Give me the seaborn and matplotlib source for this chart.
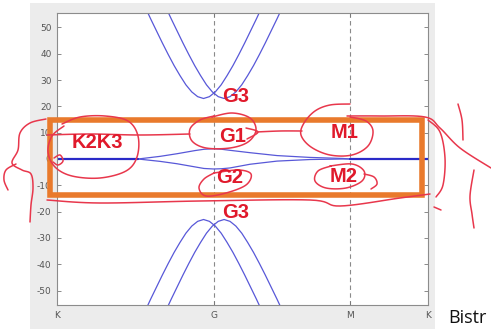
import matplotlib
matplotlib.use("Agg")
import numpy as np
import pandas as pd
import seaborn as sns
import matplotlib.pyplot as plt
from matplotlib.lines import Line2D
from matplotlib.patches import Rectangle

# ---------------------------------------------------------------- data
# high-symmetry path K -> G -> M -> K (path length in units of 1/a)
tick_pos = [0.0, 1.3333, 2.4880, 3.1547]
tick_labels = ["K", "G", "M", "K"]
y_ticks = [-50, -40, -30, -20, -10, 0, 10, 20, 30, 40, 50]

# remote conduction bands (two split parabolas crossing at G)
k_cb_a = [0.696, 0.746, 0.796, 0.846, 0.896, 0.946, 0.996, 1.046, 1.096, 1.146, 1.196, 1.246,
          1.296, 1.346, 1.396, 1.446, 1.496, 1.546, 1.596, 1.646, 1.696, 1.746, 1.796]
e_cb_a = [62.9, 58.1, 53.3, 48.7, 44.1, 39.7, 35.5, 31.7, 28.2, 25.5, 23.7, 23.0,
          23.7, 25.5, 28.2, 31.7, 35.5, 39.7, 44.1, 48.7, 53.3, 58.1, 62.9]
k_cb_b = [0.871, 0.921, 0.971, 1.021, 1.071, 1.121, 1.171, 1.221, 1.271, 1.321, 1.371, 1.421,
          1.471, 1.521, 1.571, 1.621, 1.671, 1.721, 1.771, 1.821, 1.871, 1.921, 1.971]
e_cb_b = [62.9, 58.1, 53.3, 48.7, 44.1, 39.7, 35.5, 31.7, 28.2, 25.5, 23.7, 23.0,
          23.7, 25.5, 28.2, 31.7, 35.5, 39.7, 44.1, 48.7, 53.3, 58.1, 62.9]

# remote valence bands
k_vb_a = [0.696, 0.746, 0.796, 0.846, 0.896, 0.946, 0.996, 1.046, 1.096, 1.146, 1.196, 1.246,
          1.296, 1.346, 1.396, 1.446, 1.496, 1.546, 1.596, 1.646, 1.696, 1.746, 1.796]
e_vb_a = [-62.9, -58.1, -53.3, -48.7, -44.1, -39.7, -35.5, -31.7, -28.2, -25.5, -23.7, -23.0,
          -23.7, -25.5, -28.2, -31.7, -35.5, -39.7, -44.1, -48.7, -53.3, -58.1, -62.9]
k_vb_b = [0.871, 0.921, 0.971, 1.021, 1.071, 1.121, 1.171, 1.221, 1.271, 1.321, 1.371, 1.421,
          1.471, 1.521, 1.571, 1.621, 1.671, 1.721, 1.771, 1.821, 1.871, 1.921, 1.971]
e_vb_b = [-62.9, -58.1, -53.3, -48.7, -44.1, -39.7, -35.5, -31.7, -28.2, -25.5, -23.7, -23.0,
          -23.7, -25.5, -28.2, -31.7, -35.5, -39.7, -44.1, -48.7, -53.3, -58.1, -62.9]

# nearly flat bands around charge neutrality
k_mid = [0.000, 0.689, 0.876, 1.020, 1.173, 1.250, 1.333, 1.400, 1.471, 1.641, 1.871, 2.151, 2.432, 2.488, 3.155]
e_mid_up = [0.0, 0.0, 1.0, 2.0, 3.2, 3.7, 3.9, 3.7, 3.3, 2.4, 1.3, 0.6, 0.2, 0.0, 0.0]
e_mid_dn = [0.0, 0.0, -0.9, -1.8, -3.0, -3.6, -3.8, -3.7, -3.4, -2.0, -0.8, -0.2, 0.0, 0.0, 0.0]

# degenerate flat segments near K
k_flat_left = [0.000, 0.689]
k_flat_right = [2.488, 3.155]
e_flat_left = [0.0, 0.0]
e_flat_right = [0.0, 0.0]

bands = pd.concat([
    pd.DataFrame({"k": k_cb_a, "E": e_cb_a, "band": "cb_a"}),
    pd.DataFrame({"k": k_cb_b, "E": e_cb_b, "band": "cb_b"}),
    pd.DataFrame({"k": k_vb_a, "E": e_vb_a, "band": "vb_a"}),
    pd.DataFrame({"k": k_vb_b, "E": e_vb_b, "band": "vb_b"}),
    pd.DataFrame({"k": k_mid, "E": e_mid_up, "band": "mid_up"}),
    pd.DataFrame({"k": k_mid, "E": e_mid_dn, "band": "mid_dn"}),
], ignore_index=True)
flat = pd.concat([
    pd.DataFrame({"k": k_flat_left, "E": e_flat_left, "band": "flat_l"}),
    pd.DataFrame({"k": k_flat_right, "E": e_flat_right, "band": "flat_r"}),
], ignore_index=True)

# ---------------------------------------------------------------- figure
sns.set_style("ticks")
plt.rcParams["font.family"] = ["DejaVu Sans"]
plt.rcParams["axes.unicode_minus"] = False

W, H = 491, 329
fig = plt.figure(figsize=(W / 100, H / 100), dpi=100, facecolor="white")


def fx(x):
    return x / W


def fy(y):
    return 1 - y / H


# grey window background behind the axes
fig.patches.append(Rectangle((fx(30), 0), fx(435) - fx(30), fy(3), transform=fig.transFigure,
                             facecolor="#ececec", edgecolor="none", zorder=-5))

ax = fig.add_axes([fx(57), fy(305), fx(428) - fx(57), fy(13) - fy(305)])
ax.set_facecolor("white")

band_color = "#5858d8"
sns.lineplot(data=bands, x="k", y="E", units="band", estimator=None, sort=False,
             color=band_color, lw=0.9, ax=ax, legend=False)
sns.lineplot(data=flat, x="k", y="E", units="band", estimator=None, sort=False,
             color="#2a2ac8", lw=1.6, ax=ax, legend=False)

for xv in tick_pos[1:3]:
    ax.axvline(xv, color="#8a8a8a", lw=0.8, ls=(0, (4, 3)), zorder=0)

ax.set_xlim(tick_pos[0], tick_pos[-1])
ax.set_ylim(-55.5, 55.5)
ax.set_xticks(tick_pos)
ax.set_xticklabels(tick_labels)
ax.set_yticks(y_ticks)
ax.set_xlabel("")
ax.set_ylabel("")
ax.tick_params(direction="in", length=3, width=0.6, top=True, right=True,
               labelsize=6.5, labelcolor="#555555", color="#777777", pad=4)
for sp in ax.spines.values():
    sp.set_color("#8c8c8c")
    sp.set_linewidth(0.8)


# ---------------------------------------------------------------- hand-drawn overlay
def smooth(pts, n=10):
    p = np.asarray(pts, dtype=float)
    p = np.vstack([p[0], p, p[-1]])
    out = []
    for i in range(1, len(p) - 2):
        p0, p1, p2, p3 = p[i - 1], p[i], p[i + 1], p[i + 2]
        for t in np.linspace(0, 1, n, endpoint=False):
            t2, t3 = t * t, t * t * t
            out.append(0.5 * ((2 * p1) + (-p0 + p2) * t + (2 * p0 - 5 * p1 + 4 * p2 - p3) * t2
                              + (-p0 + 3 * p1 - 3 * p2 + p3) * t3))
    out.append(p[-2])
    return np.array(out)


ink = "#e8374c"


def stroke(pts, lw=1.1, color=ink):
    s = smooth(pts)
    fig.add_artist(Line2D(s[:, 0] / W, 1 - s[:, 1] / H, color=color, lw=lw,
                          solid_capstyle="round", solid_joinstyle="round", zorder=20))


# orange box around the flat bands
fig.add_artist(Rectangle((fx(50), fy(195)), fx(421.5) - fx(50), fy(119.5) - fy(195),
                         transform=fig.transFigure, fill=False, edgecolor="#e97a2c",
                         lw=4.0, zorder=19))

# loops around the labels
stroke([(62, 124), (80, 117), (105, 116), (128, 121), (138, 136), (137, 157), (126, 171),
        (100, 178), (72, 176), (55, 167), (48, 152), (52, 136), (64, 126)])
stroke([(54, 158), (60, 155), (63, 161), (58, 165), (53, 162)])
stroke([(47, 135), (90, 134), (140, 135), (190, 134)])
stroke([(212, 117), (232, 113), (250, 118), (256, 130), (248, 142), (230, 148), (206, 148),
        (192, 141), (190, 129), (200, 120), (214, 116)])
stroke([(246, 128), (258, 132), (247, 139)])
stroke([(256, 132), (280, 131), (302, 131)])
stroke([(214, 173), (238, 170), (251, 174), (246, 185), (226, 193), (206, 196), (199, 188),
        (204, 179), (214, 173)])
stroke([(350, 104), (330, 105), (315, 111), (304, 123), (301, 135), (311, 147), (330, 155),
        (352, 155), (368, 146), (373, 131), (366, 121), (350, 117)])
stroke([(347, 116), (380, 116), (425, 117), (440, 128), (460, 148), (491, 168)])
stroke([(330, 166), (352, 164), (364, 171), (362, 181), (346, 188), (326, 188), (315, 181),
        (318, 171), (331, 166)])
stroke([(364, 174), (374, 177), (377, 184), (371, 189)])
stroke([(47, 200), (100, 203), (200, 201), (310, 200), (340, 206), (400, 198), (430, 194)])
# side brackets
stroke([(46, 119), (30, 123), (20, 133), (18, 150), (12, 163), (22, 170), (31, 174), (33, 188),
        (31, 205), (30, 222)])
stroke([(16, 164), (6, 170), (4, 180), (8, 190)])
stroke([(428, 120), (440, 132), (445, 158), (443, 185), (436, 197)])
stroke([(458, 104), (462, 120), (463, 140)])
stroke([(474, 170), (470, 196), (472, 214), (474, 228)])
stroke([(434, 207), (441, 210)])

# red labels
lab = dict(color="#e0192b", fontsize=14.5, fontweight="bold", family="Liberation Sans",
           ha="center", va="center", zorder=21)
fig.text(fx(97), fy(142), "K2K3", **lab)
fig.text(fx(233), fy(136), "G1", **lab)
fig.text(fx(230), fy(177), "G2", **lab)
fig.text(fx(236), fy(97), "G3", **lab)
fig.text(fx(236), fy(213), "G3", **lab)
fig.text(fx(345), fy(133), "M1", **lab)
fig.text(fx(344), fy(176), "M2", **lab)

fig.text(fx(448), fy(323), "Bistr", fontsize=13, family="Open Sans", color="#111111",
         ha="left", va="baseline")

fig.savefig("out.png", dpi=100, facecolor="white")
